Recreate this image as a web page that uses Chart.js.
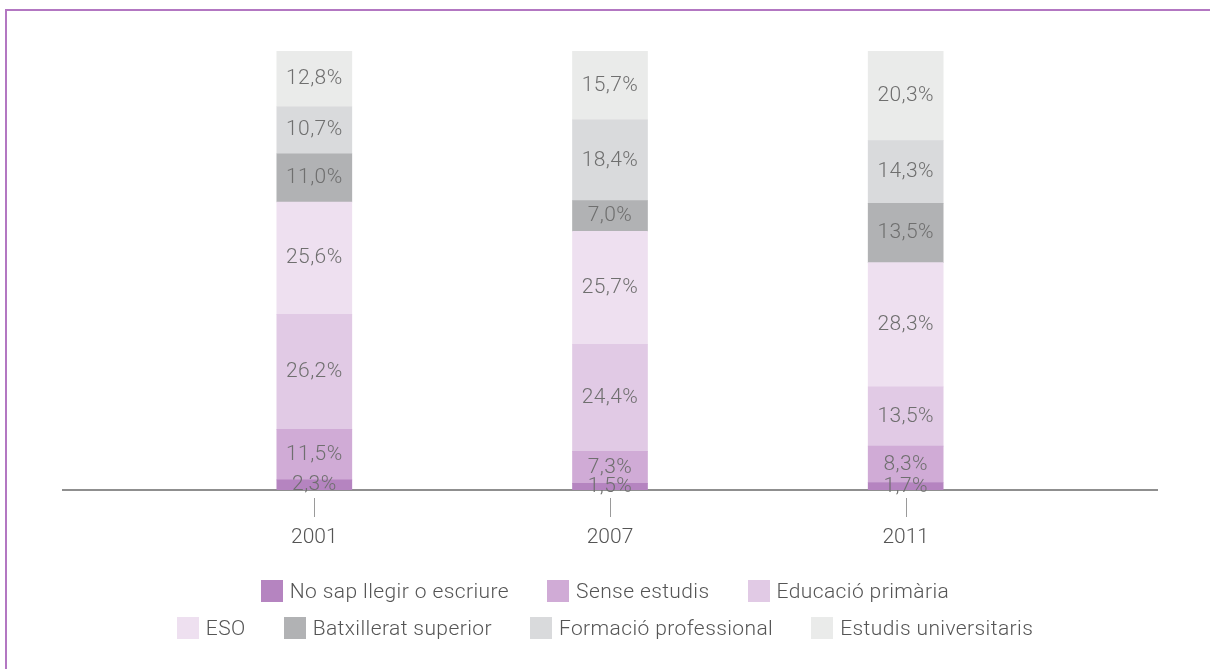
<!DOCTYPE html>
<html>
<head>
<meta charset="utf-8">
<script src="https://cdn.jsdelivr.net/npm/chart.js@4"></script>
<style>
  body { margin: 0; background: #fff; }
  #wrap { position: relative; width: 1210px; height: 669px; overflow: hidden; }
  #frame { position: absolute; left: 5px; top: 9px; right: -10px; bottom: -10px;
           border-left: 2px solid #b377c2; border-top: 2px solid #b377c2; }
  #legend { position: absolute; left: 0; top: 577px; width: 1210px;
            font-family: Roboto, "Liberation Sans", sans-serif; font-weight: 300;
            font-size: 21px; letter-spacing: 0.4px; color: #555; }
  .row { display: flex; justify-content: center; gap: 38px; height: 28px; margin-bottom: 9px; }
  .item { display: flex; align-items: center; }
  .box { width: 22px; height: 22px; margin-right: 7px; }
</style>
</head>
<body>
<div id="wrap">
  <canvas id="chart" width="1210" height="669"></canvas>
  <div id="frame"></div>
  <div id="legend"></div>
</div>
<script>
var years = ["2001", "2007", "2011"];
var noSap = [2.3, 1.5, 1.7];
var senseEstudis = [11.5, 7.3, 8.3];
var primaria = [26.2, 24.4, 13.5];
var eso = [25.6, 25.7, 28.3];
var batxillerat = [11.0, 7.0, 13.5];
var formacio = [10.7, 18.4, 14.3];
var universitaris = [12.8, 15.7, 20.3];

var seriesNames = ["No sap llegir o escriure", "Sense estudis", "Educació primària",
                   "ESO", "Batxillerat superior", "Formació professional", "Estudis universitaris"];
var seriesValues = [noSap, senseEstudis, primaria, eso, batxillerat, formacio, universitaris];
var colors = ["#b584c0", "#d0abd6", "#e1cae5", "#eee0f0", "#b1b2b4", "#d9dadc", "#eaebea"];

var FONT = "Roboto, 'Liberation Sans', sans-serif";

function toPoints(vals) {
  return vals.map(function(v, i) { return { x: i, y: v }; });
}

var datasets = seriesValues.map(function(vals, i) {
  return {
    label: seriesNames[i],
    data: toPoints(vals),
    backgroundColor: colors[i],
    borderWidth: 0,
    stack: "s",
    barThickness: 75
  };
});

// percentage labels inside each segment
var segmentLabels = {
  id: "segmentLabels",
  afterDatasetsDraw: function(chart) {
    var ctx = chart.ctx;
    ctx.save();
    ctx.font = "300 21px " + FONT;
    ctx.letterSpacing = "0.4px";
    ctx.fillStyle = "#6f6f6f";
    ctx.textAlign = "center";
    ctx.textBaseline = "middle";
    chart.data.datasets.forEach(function(ds, di) {
      var meta = chart.getDatasetMeta(di);
      meta.data.forEach(function(el, i) {
        var p = el.getProps(["x", "y", "base"], true);
        var txt = ds.data[i].y.toFixed(1).replace(".", ",") + "%";
        ctx.fillText(txt, p.x, (p.y + p.base) / 2);
      });
    });
    ctx.restore();
  }
};

// small detached tick marks under the axis
var tickMarks = {
  id: "tickMarks",
  afterDraw: function(chart) {
    var x = chart.scales.x, ctx = chart.ctx;
    var b = chart.chartArea.bottom;
    ctx.save();
    ctx.strokeStyle = "#9a9a9a";
    ctx.lineWidth = 1;
    x.ticks.forEach(function(t, i) {
      var px = Math.round(x.getPixelForTick(i)) + 0.5;
      ctx.beginPath();
      ctx.moveTo(px, b + 8);
      ctx.lineTo(px, b + 27);
      ctx.stroke();
    });
    ctx.restore();
  }
};

var chart = new Chart(document.getElementById("chart"), {
  type: "bar",
  data: { datasets: datasets },
  options: {
    responsive: false,
    animation: false,
    layout: { padding: { left: 63, right: 53, top: 51, bottom: 0 } },
    plugins: { legend: { display: false }, tooltip: { enabled: false } },
    scales: {
      x: {
        type: "linear",
        offset: false,
        min: -0.85,
        max: 2.85,
        grid: { display: false, offset: false },
        border: { display: true, color: "#8f8f8f", width: 2 },
        ticks: {
          stepSize: 1,
          includeBounds: false,
          padding: 27,
          color: "#555",
          font: { family: FONT, size: 21, weight: "300" },
          callback: function(v) { return years[v]; }
        },
        afterFit: function(s) { s.height = 179; }
      },
      y: {
        display: false,
        stacked: true,
        min: 0,
        max: 100
      }
    }
  },
  plugins: [segmentLabels, tickMarks]
});

// html legend, two rows as in the original
var legend = document.getElementById("legend");
[[0, 3], [3, 7]].forEach(function(r) {
  var row = document.createElement("div");
  row.className = "row";
  for (var i = r[0]; i < r[1]; i++) {
    var item = document.createElement("div");
    item.className = "item";
    var box = document.createElement("span");
    box.className = "box";
    box.style.background = colors[i];
    var lbl = document.createElement("span");
    lbl.textContent = seriesNames[i];
    item.appendChild(box);
    item.appendChild(lbl);
    row.appendChild(item);
  }
  legend.appendChild(row);
});
</script>
</body>
</html>
